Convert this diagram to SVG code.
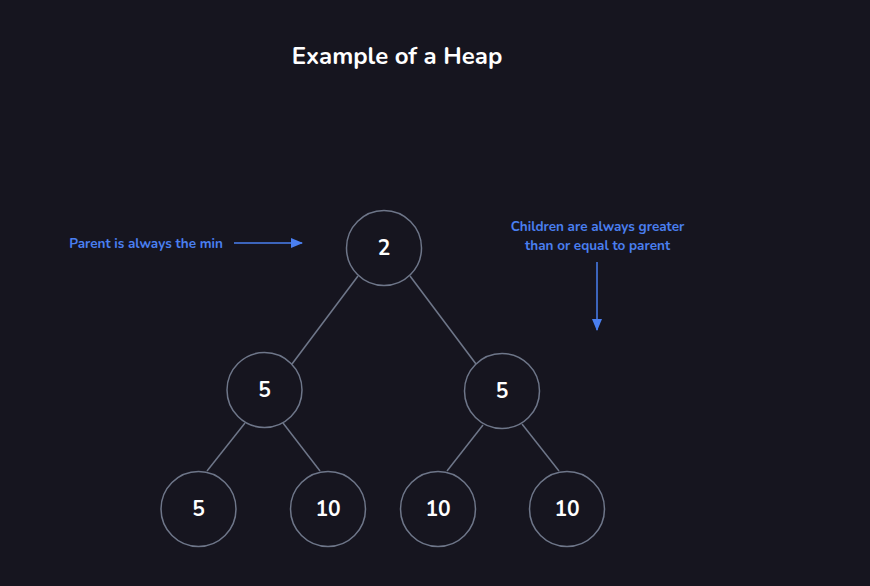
<svg xmlns="http://www.w3.org/2000/svg" width="870" height="586" viewBox="0 0 870 586">
<defs>
<style>
.node circle{fill:#16151f;stroke:#6e7689;stroke-width:1.5}
.node text{fill:#ffffff;font-family:"Nunito","Open Sans","Liberation Sans",sans-serif;font-weight:700;font-size:21px;text-anchor:middle}
.edge{stroke:#6e7689;stroke-width:1.5;fill:none}
.note{fill:#4a7ff0;font-family:"Nunito","Open Sans","Liberation Sans",sans-serif;font-weight:700;font-size:13.5px}
.arrow{stroke:#4a7ff0;stroke-width:1.5;fill:none}
</style>
<marker id="ah" markerWidth="12" markerHeight="10" refX="11" refY="5" orient="auto" markerUnits="userSpaceOnUse">
<path d="M0,0 L12,5 L0,10 Z" fill="#4a7ff0"/>
</marker>
</defs>
<rect width="870" height="586" fill="#16151f"/>
<text x="397" y="64" text-anchor="middle" fill="#ffffff" font-family="Nunito,'Open Sans','Liberation Sans',sans-serif" font-weight="700" font-size="24">Example of a Heap</text>
<g id="connectors">
<line class="edge" x1="358" y1="276" x2="292" y2="364"/>
<line class="edge" x1="410" y1="276" x2="476" y2="364"/>
<line class="edge" x1="245" y1="423" x2="207" y2="471"/>
<line class="edge" x1="283" y1="423" x2="320" y2="471"/>
<line class="edge" x1="483" y1="425" x2="447" y2="471"/>
<line class="edge" x1="522" y1="424" x2="559" y2="471"/>
<line class="arrow" x1="234" y1="243" x2="302" y2="243" marker-end="url(#ah)"/>
<line class="arrow" x1="597" y1="262" x2="597" y2="330" marker-end="url(#ah)"/>
</g>
<g id="note-parent"><text class="note" x="146" y="248" text-anchor="middle">Parent is always the min</text></g>
<g id="note-children">
<text class="note" x="597.5" y="231" text-anchor="middle">Children are always greater</text>
<text class="note" x="597.5" y="250" text-anchor="middle">than or equal to parent</text>
</g>
<g id="n-root" class="node"><circle cx="384" cy="248" r="37.5"/><text x="384" y="255">2</text></g>
<g id="n-l" class="node"><circle cx="264.5" cy="390" r="37.5"/><text x="264.5" y="397">5</text></g>
<g id="n-r" class="node"><circle cx="502" cy="391" r="37.5"/><text x="502" y="398">5</text></g>
<g id="n-ll" class="node"><circle cx="198.5" cy="509" r="37.5"/><text x="198.5" y="516">5</text></g>
<g id="n-lr" class="node"><circle cx="328" cy="509" r="37.5"/><text x="328" y="516">10</text></g>
<g id="n-rl" class="node"><circle cx="438" cy="509" r="37.5"/><text x="438" y="516">10</text></g>
<g id="n-rr" class="node"><circle cx="567" cy="509" r="37.5"/><text x="567" y="516">10</text></g>
</svg>
